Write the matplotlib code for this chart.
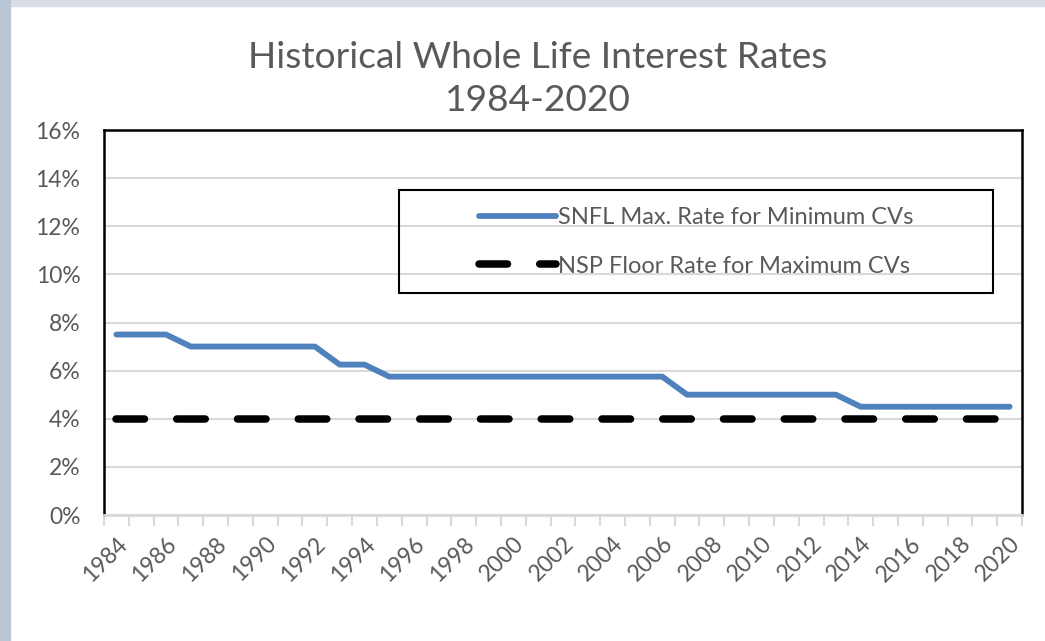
import matplotlib
matplotlib.use("Agg")
import matplotlib.pyplot as plt
from matplotlib.patches import Rectangle

years = list(range(1984, 2021))
snfl_rate = [7.5, 7.5, 7.5, 7.0, 7.0, 7.0, 7.0, 7.0, 7.0, 6.25, 6.25, 5.75,
             5.75, 5.75, 5.75, 5.75, 5.75, 5.75, 5.75, 5.75, 5.75, 5.75, 5.75,
             5.0, 5.0, 5.0, 5.0, 5.0, 5.0, 5.0, 4.5, 4.5, 4.5, 4.5, 4.5, 4.5, 4.5]
nsp_rate = [4.0] * len(years)
y_ticks = [0, 2, 4, 6, 8, 10, 12, 14, 16]

plt.rcParams['font.family'] = ['Lato', 'DejaVu Sans']
txt = '#595959'

fig = plt.figure(figsize=(10.45, 6.41), dpi=100)
fig.patch.set_facecolor('white')
# window-ish frame at top and left
fig.add_artist(Rectangle((0, 1 - 6 / 641), 1, 6 / 641, transform=fig.transFigure,
                         color='#d9dee6', zorder=0))
fig.add_artist(Rectangle((0, 0), 10 / 1045, 1, transform=fig.transFigure,
                         color='#bac5d6', zorder=0))

ax = fig.add_axes([104 / 1045, 126 / 641, 918 / 1045, 385 / 641])

x = list(range(len(years)))
ax.plot(x, snfl_rate, color='#4f81bd', lw=4.2, solid_capstyle='round',
        label='SNFL Max. Rate for Minimum CVs', zorder=3)
ax.plot(x, nsp_rate, color='black', lw=5.4, dashes=(3.8, 4.3),
        dash_capstyle='round', label='NSP Floor Rate for Maximum CVs', zorder=3)

ax.set_xlim(-0.5, len(years) - 0.5)
ax.set_ylim(0, 16)
ax.set_yticks(y_ticks)
ax.set_yticklabels([f'{v}%' for v in y_ticks], color=txt, fontsize=16.5)
ax.tick_params(axis='y', length=0, pad=17)
ax.yaxis.grid(True, color='#d9d9d9', lw=1.5)
ax.set_axisbelow(True)

ax.set_xticks([i - 0.5 for i in range(len(years) + 1)])
ax.set_xticklabels([])
ax.set_xticks(x[::2], minor=True)
ax.set_xticklabels([str(y) for y in years[::2]], minor=True, rotation=45,
                   ha='right', va='top', rotation_mode='anchor', color=txt,
                   fontsize=16.5)
ax.tick_params(axis='x', which='major', length=8, width=1.5, color='#d9d9d9')
ax.tick_params(axis='x', which='minor', length=0, pad=13)

for s in ['left', 'top', 'right']:
    ax.spines[s].set_color('black')
    ax.spines[s].set_linewidth(1.8)
ax.spines['bottom'].set_color('#d9d9d9')
ax.spines['bottom'].set_linewidth(2)

# legend box
ax.add_patch(Rectangle((295 / 918, 222 / 385), 594 / 918, 103 / 385,
                       transform=ax.transAxes, fill=False, ec='black', lw=1.5,
                       zorder=4))
leg = ax.legend(loc='upper left', bbox_to_anchor=(366 / 918, 317 / 385),
                frameon=False, fontsize=17, handlelength=3.25,
                handletextpad=0.08, labelspacing=1.15, borderaxespad=0)
for t in leg.get_texts():
    t.set_color(txt)

fig.text(538 / 1045, 1 - 79 / 641, 'Historical Whole Life Interest Rates\n1984-2020',
         ha='center', va='center', fontsize=26.7, color=txt, linespacing=1.4)

fig.savefig('out.png', dpi=100)
